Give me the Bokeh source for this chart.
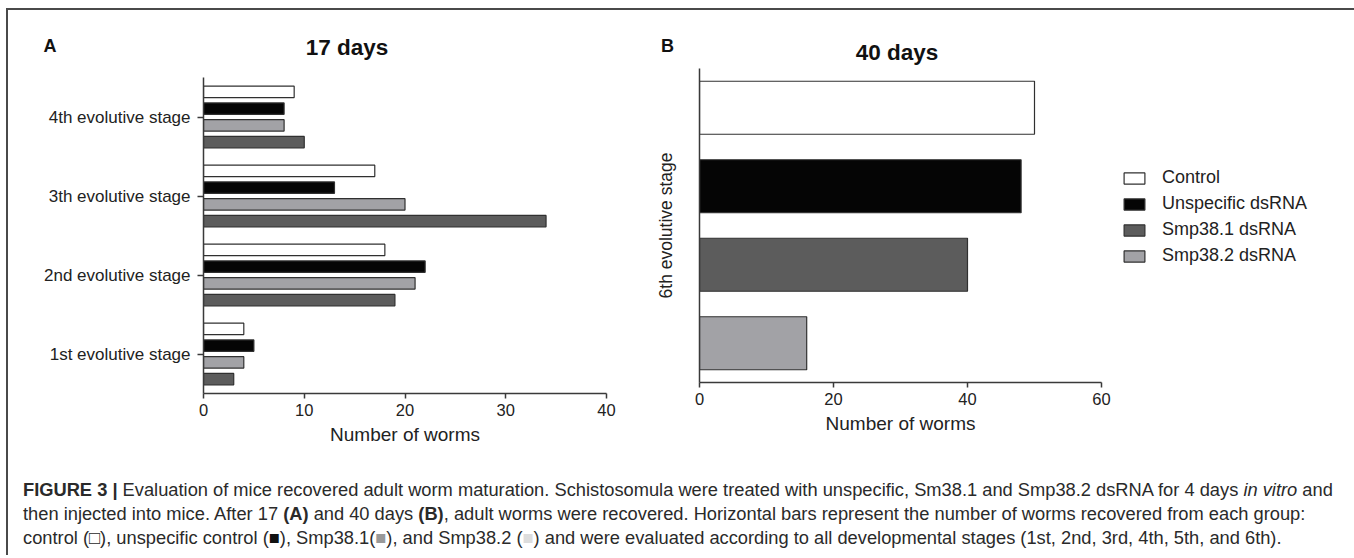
from bokeh.plotting import figure
from bokeh.models import (Range1d, FactorRange, Legend, LegendItem,
                          ColumnDataSource, Div, FixedTicker)
from bokeh.core.properties import value
from bokeh.transform import dodge
from bokeh.layouts import row, column
from bokeh.embed import file_html
from bokeh.resources import INLINE

# ---------------- data ----------------
stages = ["1st evolutive stage", "2nd evolutive stage",
          "3th evolutive stage", "4th evolutive stage"]
a_control = [4, 18, 17, 9]
a_unspecific = [5, 22, 13, 8]
a_smp38_2 = [4, 21, 20, 8]     # light grey bars
a_smp38_1 = [3, 19, 34, 10]    # dark grey bars

b_groups = ["Control", "Unspecific dsRNA", "Smp38.1 dsRNA", "Smp38.2 dsRNA"]
b_values = [50, 48, 40, 16]

a_ticks = [0, 10, 20, 30, 40]
b_ticks = [0, 20, 40, 60]

panel_letters = ["A", "B"]
panel_titles = ["17 days", "40 days"]

# ---------------- styles ----------------
FONT = "Liberation Sans"
TXT = "#222222"
AXC = "#3a3a3a"
C_WHITE, C_BLACK, C_DARK, C_LIGHT = "#ffffff", "#050505", "#5c5c5c", "#a2a2a6"
EDGE = "#303030"


def style_axes(p, tick_size, label_size):
    for ax in (p.xaxis[0], p.yaxis[0]):
        ax.axis_line_color = AXC
        ax.axis_line_width = 1.5
        ax.major_tick_line_color = AXC
        ax.major_tick_line_width = 1.5
        ax.major_tick_in = 0
        ax.major_tick_out = 5
        ax.minor_tick_line_color = None
        ax.major_label_text_font = FONT
        ax.major_label_text_color = TXT
        ax.axis_label_text_font = FONT
        ax.axis_label_text_color = TXT
        ax.axis_label_text_font_style = "normal"
    p.xaxis.major_label_text_font_size = tick_size
    p.xaxis.axis_label_text_font_size = label_size
    p.xgrid.visible = False
    p.ygrid.visible = False
    p.outline_line_color = None
    if "frame_align" in p.properties():
        p.frame_align = False


# ---------------- header (panel letters and titles) ----------------
W_A, W_B, H_HEAD = 644, 690, 56
head = figure(width=W_A + W_B, height=H_HEAD, title=None,
              x_range=Range1d(0, W_A + W_B), y_range=Range1d(H_HEAD, 0),
              x_axis_location=None, y_axis_location=None,
              min_border=0, output_backend="svg", toolbar_location=None)
head.outline_line_color = None
head.xgrid.visible = False
head.ygrid.visible = False
head.text(x=[41.5, 659], y=[35.5, 35], text=panel_letters,
          text_font=value(FONT), text_font_style="bold", text_font_size="18px",
          text_color="#111111", text_align="center", text_baseline="middle")
head.text(x=[338.5, 888.5], y=[37, 42], text=panel_titles,
          text_font=value(FONT), text_font_style="bold", text_font_size="22.5px",
          text_color="#111111", text_align="center", text_baseline="middle")

# ---------------- panel A ----------------
pA = figure(y_range=FactorRange(factors=stages, range_padding=0),
            x_range=Range1d(0, 40), title=None,
            frame_width=403, frame_height=316,
            min_border_left=195, min_border_right=W_A - 195 - 403,
            min_border_top=11, min_border_bottom=80,
            output_backend="svg", toolbar_location=None)
srcA = ColumnDataSource(dict(stage=stages, control=a_control,
                             unspecific=a_unspecific, s2=a_smp38_2, s1=a_smp38_1))
bar_h = 0.145
for col, off, colr in (("control", 0.318, C_WHITE), ("unspecific", 0.106, C_BLACK),
                       ("s2", -0.106, C_LIGHT), ("s1", -0.318, C_DARK)):
    pA.hbar(y=dodge("stage", off, range=pA.y_range), right=col, left=0,
            height=bar_h, source=srcA, fill_color=colr,
            line_color=EDGE, line_width=1.2)
style_axes(pA, "16.5px", "19px")
pA.xaxis.ticker = FixedTicker(ticks=a_ticks)
pA.xaxis.axis_label = "Number of worms"
pA.yaxis.major_label_text_font_size = "17px"
pA.yaxis.major_label_standoff = 7
pA.yaxis.major_tick_out = 6

# ---------------- panel B ----------------
nB = len(b_groups)
pB = figure(y_range=Range1d(0, nB), x_range=Range1d(0, 60), title=None,
            frame_width=402, frame_height=314,
            min_border_left=45, min_border_right=W_B - 45 - 402,
            min_border_top=2, min_border_bottom=91,
            output_backend="svg", toolbar_location=None)
srcB = ColumnDataSource(dict(pos=[nB - i - 0.5 for i in range(nB)], value=b_values,
                             group=b_groups,
                             color=[C_WHITE, C_BLACK, C_DARK, C_LIGHT]))
rB = pB.hbar(y="pos", right="value", left=0, height=0.675, source=srcB,
             fill_color="color", line_color=EDGE, line_width=1.2)
style_axes(pB, "16.5px", "19px")
pB.xaxis.ticker = FixedTicker(ticks=b_ticks)
pB.xaxis.axis_label = "Number of worms"
pB.yaxis.ticker = FixedTicker(ticks=[])
pB.yaxis.major_tick_line_color = None
pB.yaxis.major_tick_out = 0
pB.yaxis.major_label_standoff = 0
pB.yaxis.axis_label = "6th evolutive stage"
pB.yaxis.axis_label_text_font_size = "17.5px"
pB.yaxis.axis_label_standoff = 24

legend = Legend(items=[LegendItem(label=g, renderers=[rB], index=i)
                       for i, g in enumerate(b_groups)],
                location=(20, 116), margin=0, padding=0,
                border_line_color=None, background_fill_alpha=0,
                glyph_width=26, glyph_height=14, label_height=20,
                spacing=5, label_standoff=15,
                label_text_font=FONT, label_text_font_size="18px",
                label_text_color=TXT)
pB.add_layout(legend, "right")

# ---------------- caption ----------------
caption = (
    '<b>FIGURE 3 |</b> Evaluation of mice recovered adult worm maturation. '
    'Schistosomula were treated with unspecific, Sm38.1 and Smp38.2 dsRNA for 4 days '
    '<i>in vitro</i> and<br>'
    'then injected into mice. After 17 <b>(A)</b> and 40 days <b>(B)</b>, adult worms were '
    'recovered. Horizontal bars represent the number of worms recovered from each group:<br>'
    'control (\u25a1), unspecific control (<span style="color:#111">\u25a0</span>), '
    'Smp38.1(<span style="color:#999">\u25a0</span>), and Smp38.2 '
    '(<span style="color:#ddd">\u25a0</span>) and were evaluated according to all '
    'developmental stages (1st, 2nd, 3rd, 4th, 5th, and 6th).'
)
cap = Div(text=caption, width=W_A + W_B, height=72,
          styles={"font-family": FONT, "font-size": "18.3px", "line-height": "24px",
                  "color": "#2a2a2a", "white-space": "nowrap",
                  "padding-left": "10px", "box-sizing": "border-box"})

layout = column(head, row(pA, pB, spacing=0), cap, spacing=0,
                styles={"border-left": "2px solid #4a4a4a",
                        "border-top": "2px solid #4a4a4a",
                        "margin-left": "6px", "margin-top": "8px"})

open("out.html", "w").write(file_html(layout, INLINE))
